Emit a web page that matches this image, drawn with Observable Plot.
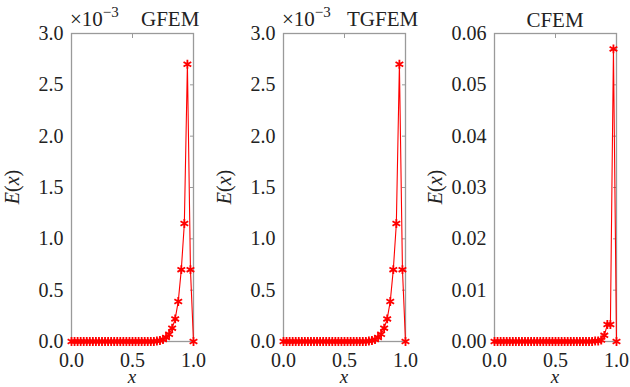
<!DOCTYPE html>
<html>
<head>
<meta charset="utf-8">
<script src="https://cdn.jsdelivr.net/npm/d3@7"></script>
<script src="https://cdn.jsdelivr.net/npm/@observablehq/plot@0.6"></script>
<style>
  html, body { margin: 0; padding: 0; background: #fff; }
  #wrap { position: relative; width: 630px; height: 387px; overflow: hidden; }
  #wrap svg { position: absolute; top: 0; }
  #wrap svg, #wrap svg text { font-family: "Liberation Serif", "Times New Roman", serif !important; }
</style>
</head>
<body>
<div id="wrap"></div>
<script>
const xs = [0.000,0.025,0.050,0.075,0.100,0.125,0.150,0.175,0.200,0.225,
            0.250,0.275,0.300,0.325,0.350,0.375,0.400,0.425,0.450,0.475,
            0.500,0.525,0.550,0.575,0.600,0.625,0.650,0.675,0.700,0.725,
            0.750,0.775,0.800,0.825,0.850,0.875,0.900,0.925,0.950,0.975,1.000];
// GFEM and TGFEM values in units of 1e-3
const gfem = [0,0,0,0,0,0,0,0,0,0,
              0,0,0,0,0,0,0,0,0,0,
              0,0,0,0,0,0,0,0,0.005,0.01,
              0.02,0.04,0.07,0.13,0.22,0.39,0.70,1.15,2.70,0.70,0];
const tgfem = [0,0,0,0,0,0,0,0,0,0,
               0,0,0,0,0,0,0,0,0,0,
               0,0,0,0,0,0,0,0,0.005,0.01,
               0.02,0.04,0.07,0.13,0.22,0.39,0.70,1.15,2.70,0.70,0];
const cfem = [0,0,0,0,0,0,0,0,0,0,
              0,0,0,0,0,0,0,0,0,0,
              0,0,0,0,0,0,0,0,0,0,
              0,0,0,0.0001,0.0001,0.0003,0.0012,0.0033,0.0033,0.057,0];
const xTicks = [0, 0.5, 1.0];
const gTicks = [0, 0.5, 1.0, 1.5, 2.0, 2.5, 3.0];
const cTicks = [0, 0.01, 0.02, 0.03, 0.04, 0.05, 0.06];

const panels = [
  {name: "GFEM", vals: gfem, yDomain: [0, 3], yTicks: gTicks, fmt: d3.format(".1f"), left: 0, width: 210, mr: 17, sci: true, titleX: 141},
  {name: "TGFEM", vals: tgfem, yDomain: [0, 3], yTicks: gTicks, fmt: d3.format(".1f"), left: 212, width: 210, mr: 17, sci: true, titleX: 135},
  {name: "CFEM", vals: cfem, yDomain: [0, 0.06], yTicks: cTicks, fmt: d3.format(".2f"), left: 423, width: 207, mr: 14, sci: false}
];

const FONT = "Liberation Serif";
const red = "#ff0000";
const gray = "#9a9a9a";

const wrap = document.getElementById("wrap");
for (const p of panels) {
  const data = xs.map((x, i) => ({x, y: p.vals[i]}));
  const svg = Plot.plot({
    width: p.width,
    height: 387,
    marginLeft: 71,
    marginRight: p.mr,
    marginTop: 33,
    marginBottom: 46,
    style: {fontFamily: FONT, fontSize: "20px", background: "transparent", color: "#222"},
    x: {domain: [0, 1]},
    y: {domain: p.yDomain},
    marks: [
      Plot.axisX({anchor: "bottom", ticks: xTicks, tickFormat: d3.format(".1f"), tickSize: 0, tickPadding: 11, label: null, fontSize: 20}),
      Plot.axisX({anchor: "top", ticks: xTicks, text: null, tickSize: -4, stroke: gray, label: null}),
      Plot.axisY({anchor: "left", ticks: p.yTicks, tickFormat: p.fmt, tickSize: 0, tickPadding: 8, label: null, fontSize: 20}),
      Plot.axisY({anchor: "right", ticks: p.yTicks, text: null, tickSize: -4, stroke: gray, label: null}),
      Plot.frame({stroke: gray, strokeWidth: 1.3}),
      Plot.line(data, {x: "x", y: "y", stroke: red, strokeWidth: 1.1}),
      Plot.dot(data, {x: "x", y: "y", symbol: "asterisk", r: 4.2, stroke: red, strokeWidth: 1.8})
    ]
  });
  svg.style.left = p.left + "px";
  wrap.appendChild(svg);

  const s = d3.select(svg);
  const cx = 71 + (p.width - 71 - p.mr) / 2;
  // y label E(x)
  const yl = s.append("text")
    .attr("transform", `translate(19,187) rotate(-90)`)
    .attr("text-anchor", "middle")
    .attr("font-family", FONT)
    .attr("font-size", 20).attr("fill", "#222");
  yl.append("tspan").attr("font-style", "italic").text("E");
  yl.append("tspan").text("(");
  yl.append("tspan").attr("font-style", "italic").text("x");
  yl.append("tspan").text(")");
  // x label
  s.append("text")
    .attr("x", cx).attr("y", 383)
    .attr("text-anchor", "middle")
    .attr("font-family", FONT)
    .attr("font-size", 19).attr("font-style", "italic").attr("fill", "#222")
    .text("x");
  // titles
  if (p.sci) {
    const t = s.append("text")
      .attr("x", 70).attr("y", 26)
      .attr("text-anchor", "start")
      .attr("font-family", FONT)
      .attr("font-size", 21).attr("fill", "#222");
    t.append("tspan").text("×10");
    t.append("tspan").attr("dy", -9).attr("font-size", 15).text("−3");
    s.append("text")
      .attr("x", p.titleX).attr("y", 26)
      .attr("text-anchor", "start")
      .attr("font-family", FONT)
      .attr("font-size", 21).attr("fill", "#222")
      .text(p.name);
  } else {
    s.append("text")
      .attr("x", cx).attr("y", 27)
      .attr("text-anchor", "middle")
      .attr("font-family", FONT)
      .attr("font-size", 21).attr("fill", "#222")
      .text(p.name);
  }
}
</script>
</body>
</html>
